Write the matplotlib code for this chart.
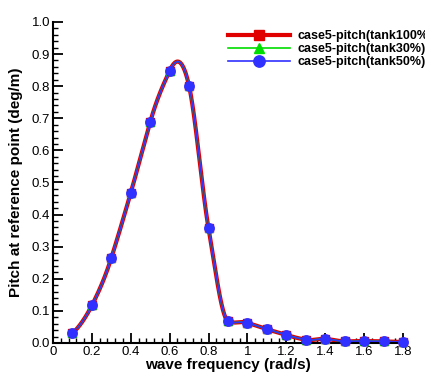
import numpy as np
import matplotlib
matplotlib.use("Agg")
import matplotlib.pyplot as plt
from matplotlib.ticker import MultipleLocator, FuncFormatter

plt.rcParams['font.family'] = ['Liberation Sans', 'DejaVu Sans']

freq = [0.1, 0.2, 0.3, 0.4, 0.5, 0.6, 0.7, 0.8, 0.9, 1.0, 1.1, 1.2, 1.3, 1.4, 1.5, 1.6, 1.7, 1.8]
tank100 = [0.030, 0.117, 0.265, 0.468, 0.688, 0.848, 0.800, 0.357, 0.068, 0.063, 0.043, 0.025, 0.010, 0.013, 0.005, 0.006, 0.005, 0.003]
tank30 = [0.030, 0.117, 0.265, 0.468, 0.688, 0.848, 0.800, 0.357, 0.068, 0.063, 0.043, 0.025, 0.010, 0.013, 0.005, 0.006, 0.005, 0.003]
tank50 = [0.030, 0.117, 0.265, 0.468, 0.688, 0.848, 0.800, 0.357, 0.068, 0.063, 0.043, 0.025, 0.010, 0.013, 0.005, 0.006, 0.005, 0.003]
labels = ["case5-pitch(tank100%", "case5-pitch(tank30%)", "case5-pitch(tank50%)"]


def akima(x, y, n=800):
    """Akima spline drawn through the data points (line rendering only)."""
    x = np.asarray(x, float); y = np.asarray(y, float)
    m = np.diff(y) / np.diff(x)
    mm = np.concatenate([[3 * m[0] - 2 * m[1], 2 * m[0] - m[1]], m,
                         [2 * m[-1] - m[-2], 3 * m[-1] - 2 * m[-2]]])
    t = np.zeros(len(x))
    for i in range(len(x)):
        m1, m2, m3, m4 = mm[i], mm[i + 1], mm[i + 2], mm[i + 3]
        w1 = abs(m4 - m3); w2 = abs(m2 - m1)
        t[i] = (m2 + m3) / 2 if w1 + w2 == 0 else (w1 * m2 + w2 * m3) / (w1 + w2)
    xs = np.linspace(x[0], x[-1], n)
    idx = np.clip(np.searchsorted(x, xs) - 1, 0, len(x) - 2)
    h = x[idx + 1] - x[idx]
    s = (xs - x[idx]) / h
    h00 = 2 * s**3 - 3 * s**2 + 1; h10 = s**3 - 2 * s**2 + s
    h01 = -2 * s**3 + 3 * s**2; h11 = s**3 - s**2
    ys = h00 * y[idx] + h10 * h * t[idx] + h01 * y[idx + 1] + h11 * h * t[idx + 1]
    return xs, ys


fig = plt.figure(figsize=(4.25, 3.78), dpi=100)
ax = fig.add_axes([0.1247, 0.0926, 0.8235, 0.8494])

styles = [("#e00000", "s", 3.0, 5.5), ("#00dd00", "^", 1.2, 5.5), ("#3030ff", "o", 1.2, 6.8)]
for data, lab, (c, mk, lw, ms) in zip([tank100, tank30, tank50], labels, styles):
    xs, ys = akima(freq, data)
    ax.plot(xs, ys, color=c, lw=lw, zorder=2, clip_on=False)
    ax.plot(freq, data, ls="none", marker=mk, color=c, ms=ms, zorder=3, clip_on=False)
    ax.plot([], [], color=c, lw=lw, marker=mk, ms=ms * 1.2, label=lab)

ax.set_xlim(0, 1.8)
ax.set_ylim(0, 1.0)
ax.xaxis.set_major_locator(MultipleLocator(0.2))
ax.xaxis.set_minor_locator(MultipleLocator(0.04))
ax.yaxis.set_major_locator(MultipleLocator(0.1))
ax.yaxis.set_minor_locator(MultipleLocator(0.02))
ax.xaxis.set_major_formatter(FuncFormatter(lambda v, p: "%g" % round(v, 2)))
ax.yaxis.set_major_formatter(FuncFormatter(lambda v, p: "%.1f" % v))
for s in ["top", "right"]:
    ax.spines[s].set_visible(False)
for s in ["left", "bottom"]:
    ax.spines[s].set_linewidth(1.5)
ax.tick_params(which="major", direction="in", length=7, width=1.3, labelsize=9.5, pad=2)
ax.tick_params(which="minor", direction="in", length=3.5, width=1.0)
ax.set_xlabel("wave frequency (rad/s)", fontsize=11, fontweight="bold", labelpad=0)
ax.set_ylabel("Pitch at reference point (deg/m)", fontsize=11, fontweight="bold", labelpad=6)

leg = ax.legend(loc="upper left", bbox_to_anchor=(0.50, 0.975), frameon=False,
                prop={"weight": "bold", "size": 9}, handlelength=5.0, handletextpad=0.6,
                labelspacing=0.1, borderpad=0.0, borderaxespad=0.0)

fig.savefig("out.png", dpi=100)
